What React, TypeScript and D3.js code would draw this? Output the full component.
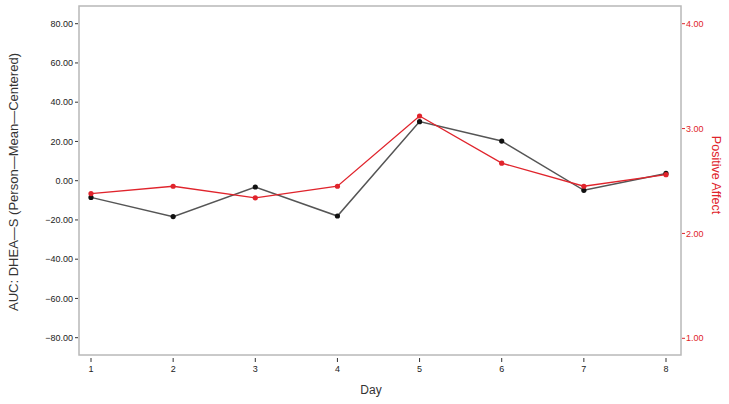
import React from "react";
import * as d3 from "d3";

const days = [1, 2, 3, 4, 5, 6, 7, 8];
const dheaValues = [-8.5, -18.3, -3.2, -18.0, 30.1, 20.2, -4.9, 3.7];
const affectValues = [2.38, 2.45, 2.34, 2.45, 3.12, 2.67, 2.45, 2.56];
const leftTicks = [80, 60, 40, 20, 0, -20, -40, -60, -80];
const rightTicks = [4, 3, 2, 1];

const W = 729;
const H = 404;
const frame = { left: 79, right: 681, top: 6, bottom: 355 };
const font = "'Liberation Sans', Arial, Helvetica, sans-serif";
const red = "#e0242c";

function fmt(v: number) {
  const s = Math.abs(v).toFixed(2);
  return v < 0 ? "\u2212" + s : s;
}

export default function App() {
  const x = d3.scaleLinear().domain([1, 8]).range([91, 666]);
  const yLeft = d3.scaleLinear().domain([-80, 80]).range([337.7, 23.7]);
  const yRight = d3.scaleLinear().domain([1, 4]).range([338.3, 23.7]);

  const blackLine = d3
    .line<number>()
    .x((_, i) => x(days[i]))
    .y((d) => yLeft(d))(dheaValues);
  const redLine = d3
    .line<number>()
    .x((_, i) => x(days[i]))
    .y((d) => yRight(d))(affectValues);

  return (
    <svg
      width={W}
      height={H}
      style={{ position: "absolute", left: 0, top: 0, background: "#fff" }}
      fontFamily={font}
    >
      {/* frame */}
      <rect
        x={frame.left}
        y={frame.top}
        width={frame.right - frame.left}
        height={frame.bottom - frame.top}
        fill="none"
        stroke="#b8b8b8"
        strokeWidth={1.5}
      />

      {/* left axis */}
      {leftTicks.map((t) => (
        <g key={"l" + t}>
          <line x1={75} x2={78} y1={yLeft(t)} y2={yLeft(t)} stroke="#333" strokeWidth={1} />
          <text x={73} y={yLeft(t)} dy="0.35em" fontSize={9} textAnchor="end" fill="#222">
            {fmt(t)}
          </text>
        </g>
      ))}

      {/* right axis */}
      {rightTicks.map((t) => (
        <g key={"r" + t}>
          <line x1={682} x2={685} y1={yRight(t)} y2={yRight(t)} stroke={red} strokeWidth={1} />
          <text x={686} y={yRight(t)} dy="0.35em" fontSize={9} fill={red}>
            {t.toFixed(2)}
          </text>
        </g>
      ))}

      {/* x axis */}
      {days.map((d) => (
        <g key={"x" + d}>
          <line x1={x(d)} x2={x(d)} y1={358} y2={362} stroke="#333" strokeWidth={1} />
          <text x={x(d)} y={372} fontSize={9} textAnchor="middle" fill="#222">
            {d}
          </text>
        </g>
      ))}

      <text x={371} y={394} fontSize={12} textAnchor="middle" fill="#333">
        Day
      </text>
      <text
        transform="translate(18,182) rotate(-90)"
        fontSize={13}
        textAnchor="middle"
        fill="#333"
      >
        AUC: DHEA—S (Person—Mean—Centered)
      </text>
      <text
        transform="translate(712,175) rotate(90)"
        fontSize={12.5}
        textAnchor="middle"
        fill={red}
      >
        Positive Affect
      </text>

      {/* series */}
      <path d={blackLine ?? ""} fill="none" stroke="#555" strokeWidth={1.5} />
      <path d={redLine ?? ""} fill="none" stroke={red} strokeWidth={1.3} />
      {dheaValues.map((v, i) => (
        <circle key={"b" + i} cx={x(days[i])} cy={yLeft(v)} r={2.6} fill="#111" />
      ))}
      {affectValues.map((v, i) => (
        <circle key={"rd" + i} cx={x(days[i])} cy={yRight(v)} r={2.6} fill={red} />
      ))}
    </svg>
  );
}
